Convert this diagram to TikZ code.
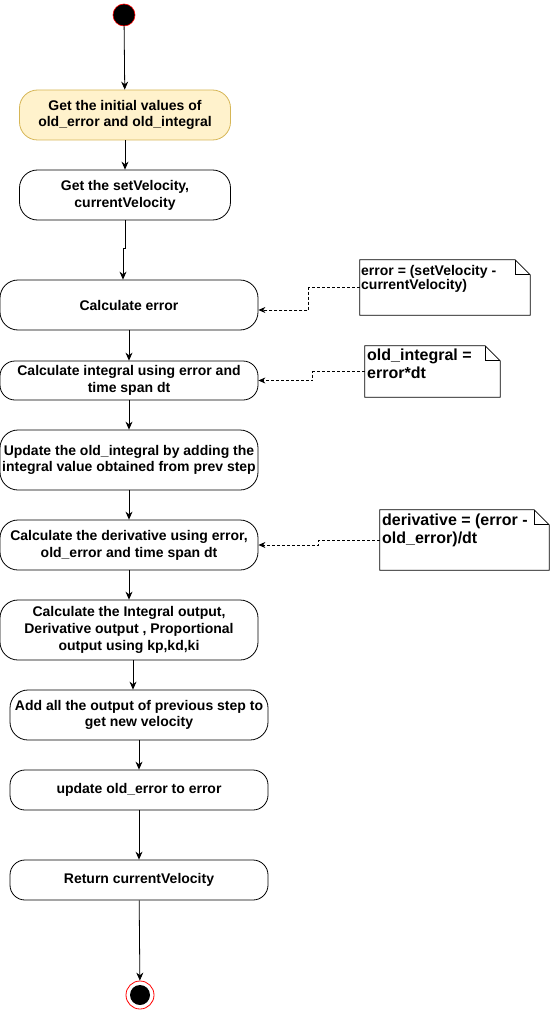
\documentclass[tikz,border=0pt]{standalone}
\usepackage{fontspec}
\setmainfont{Liberation Sans}
\usetikzlibrary{arrows.meta,positioning,calc}
\definecolor{initfill}{RGB}{255,242,204}
\definecolor{initdraw}{RGB}{214,182,86}
\tikzset{
  actbox/.style={draw, line width=0.8pt, rounded corners=18pt, align=center, inner sep=0pt,
    minimum width=258pt, minimum height=50pt, font=\bfseries\fontsize{14}{16.8}\selectfont},
  actinit/.style={actbox, draw=initdraw, fill=initfill, minimum width=211pt},
  noteshape/.style={inner sep=0pt},
  notetxt/.style={anchor=north west, inner sep=0pt, align=left},
  flowln/.style={-{Stealth[length=8pt,width=7pt]}, line width=0.8pt},
  noteln/.style={-{Stealth[length=7pt,width=6pt]}, line width=0.7pt, dash pattern=on 3pt off 2pt},
}
\newcommand{\notefold}[1]{%
  \draw[line width=0.8pt] (#1.north west) -- ([xshift=-15pt]#1.north east)
    -- ([yshift=-15pt]#1.north east) -- (#1.south east) -- (#1.south west) -- cycle;
  \draw[line width=0.8pt] ([xshift=-15pt]#1.north east) -- ([xshift=-15pt,yshift=-15pt]#1.north east)
    -- ([yshift=-15pt]#1.north east);
}
\begin{document}
\begin{tikzpicture}[x=1pt, y=-1pt]
    \useasboundingbox (0,0) rectangle (550,1011);
    % start and end points
    \node[circle, fill=black, draw=red, line width=0.6pt, minimum size=22pt, inner sep=0pt] (start) at (124,15) {};
    \node[circle, fill=white, draw=red, line width=0.8pt, minimum size=28pt, inner sep=0pt] (stop) at (140,995) {};
    \fill[black] (stop.center) circle (10pt);
    % activities
    \node[actinit] (n1) at (125,115) {Get the initial values of\\old\_error and old\_integral};
    \node[actbox, minimum width=211pt] (n2) at (125,195) {Get the setVelocity,\\currentVelocity};
    \node[actbox] (n3) at (129,305) {Calculate error};
    \node[actbox, minimum height=39pt, rounded corners=15pt] (n4) at (129,380.5) {Calculate integral using error and\\time span dt};
    \node[actbox, minimum height=60pt] (n5) at (129,460) {Update the old\_integral by adding the\\integral value obtained from prev step};
    \node[actbox] (n6) at (129,545) {Calculate the derivative using error,\\old\_error and time span dt};
    \node[actbox, minimum height=60pt] (n7) at (129,630) {Calculate the Integral output,\\Derivative output , Proportional\\output using kp,kd,ki};
    \node[actbox] (n8) at (139,715) {Add all the output of previous step to\\get new velocity};
    \node[actbox, minimum height=40pt, rounded corners=15pt] (n9) at (139,790) {update old\_error to error};
    \node[actbox, minimum height=40pt, rounded corners=15pt] (n10) at (139,880) {Return currentVelocity};
    % notes
    \node[noteshape, minimum width=170pt, minimum height=55pt] (note1) at (445,287.5) {};
    \notefold{note1}
    \node[notetxt, font=\bfseries\fontsize{14}{14}\selectfont] (note1txt) at (361,265) {error = (setVelocity -\\currentVelocity)};
    \node[noteshape, minimum width=135pt, minimum height=51pt] (note2) at (432.5,371.5) {};
    \notefold{note2}
    \node[notetxt, font=\bfseries\fontsize{16}{18}\selectfont] (note2txt) at (367,349) {old\_integral =\\error*dt};
    \node[noteshape, minimum width=169pt, minimum height=60pt] (note3) at (464.5,540) {};
    \notefold{note3}
    \node[notetxt, font=\bfseries\fontsize{16}{18}\selectfont] (note3txt) at (382,514) {derivative = (error -\\old\_error)/dt};
    % flow
    \draw[flowln] (start) -- (n1);
    \draw[flowln] (n1) -- (n2);
    \draw[flowln] (n2.south) -- ++(0,28) -| ([xshift=-6pt]n3.north);
    \draw[flowln] (n3) -- (n4);
    \draw[flowln] (n4) -- (n5);
    \draw[flowln] (n5) -- (n6);
    \draw[flowln] (n6) -- (n7);
    \draw[flowln] ([xshift=4pt]n7.south) -- ([xshift=-6pt]n8.north);
    \draw[flowln] (n8) -- (n9);
    \draw[flowln] (n9) -- (n10);
    \draw[flowln] (n10) -- (stop);
    % note links
    \draw[noteln] (note1.west) -- ++(-51,0) |- ([yshift=-5pt]n3.east);
    \draw[noteln] (note2.west) -- ++(-52,0) |- (n4.east);
    \draw[noteln] (note3.west) -- ++(-61,0) |- (n6.east);
\end{tikzpicture}
\end{document}
